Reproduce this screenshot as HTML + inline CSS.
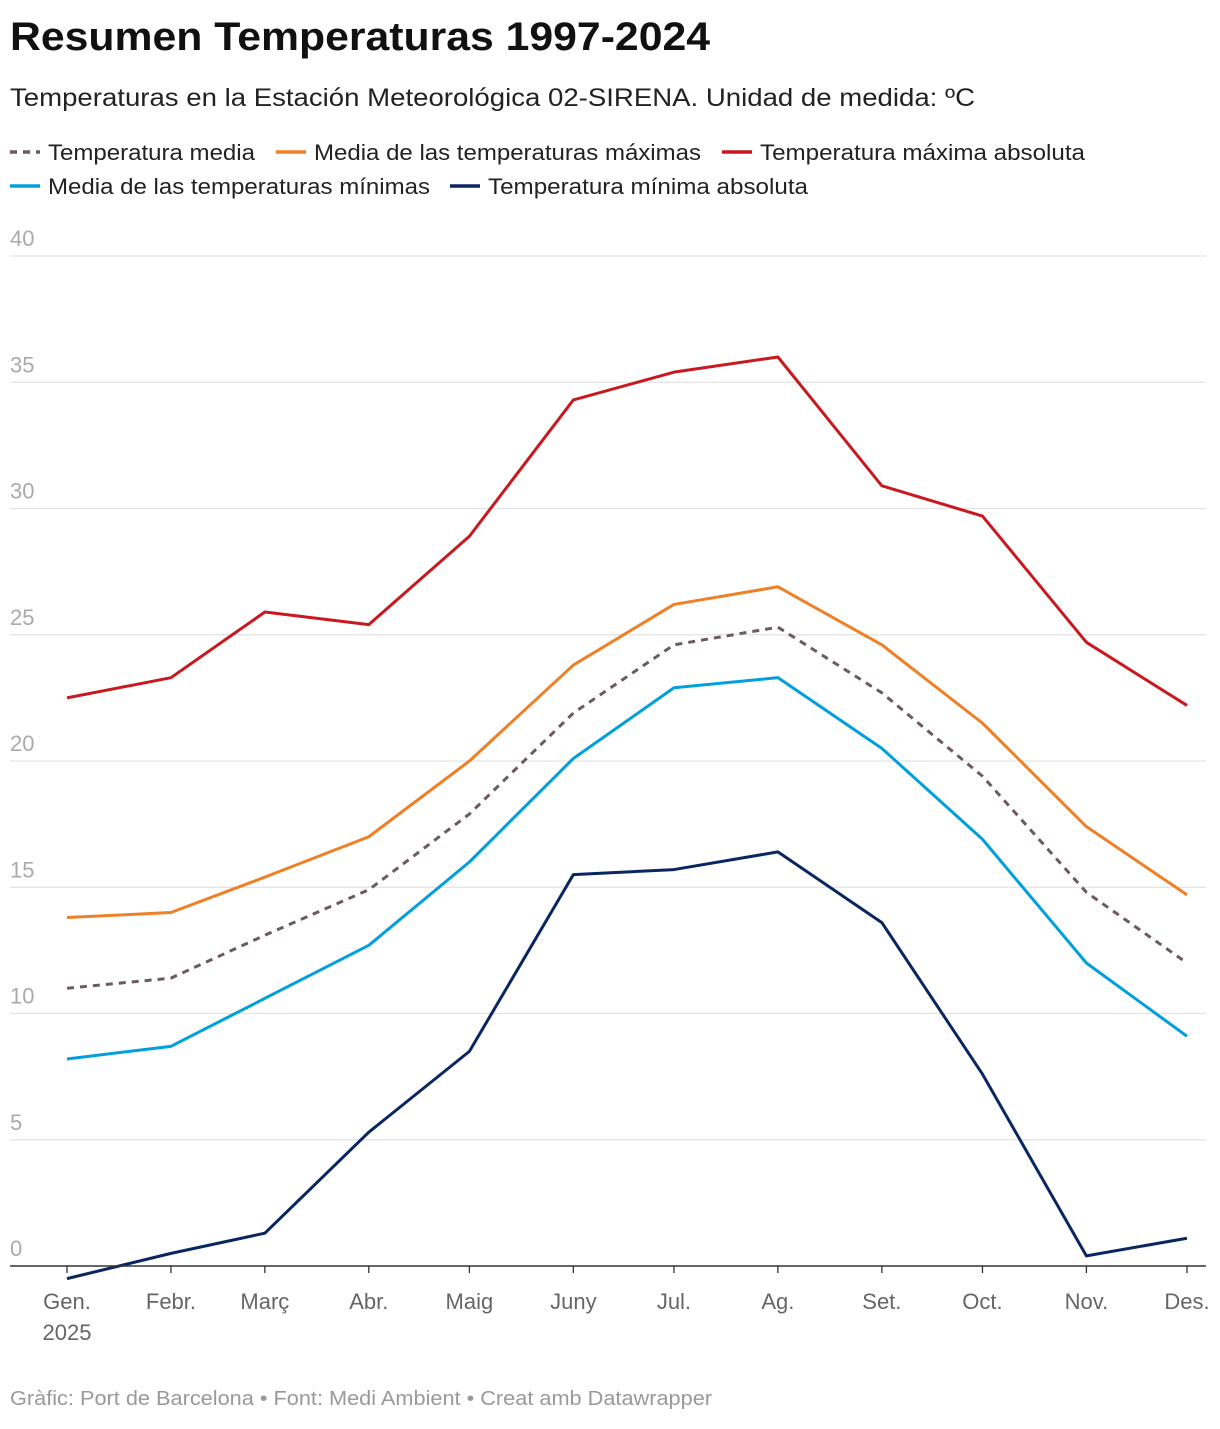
<!DOCTYPE html>
<html><head><meta charset="utf-8"><style>
body{margin:0;background:#fff;font-family:"Liberation Sans",sans-serif;}
</style></head><body>
<svg width="1220" height="1424" xmlns="http://www.w3.org/2000/svg" font-family="Liberation Sans, sans-serif">
<text x="10" y="50" font-size="40" font-weight="bold" fill="#111" textLength="700" lengthAdjust="spacingAndGlyphs">Resumen Temperaturas 1997-2024</text>
<text x="10" y="106" font-size="25" fill="#222" textLength="965" lengthAdjust="spacingAndGlyphs">Temperaturas en la Estación Meteorológica 02-SIRENA. Unidad de medida: ºC</text>
<g id="legend" font-size="21" fill="#222"></g>
<g id="grid"></g>
<g id="series"></g>
<g id="xaxis"></g>
<text x="10" y="1405" font-size="20" fill="#999" textLength="702" lengthAdjust="spacingAndGlyphs">Gràfic: Port de Barcelona • Font: Medi Ambient • Creat amb Datawrapper</text>
</svg>
<script>
const months=["Gen.","Febr.","Març","Abr.","Maig","Juny","Jul.","Ag.","Set.","Oct.","Nov.","Des."];
const monthDays=[0,31,59,90,120,151,181,212,243,273,304,334];
const yTicks=[0,5,10,15,20,25,30,35,40];
const tempMedia=[11.0,11.4,13.1,14.9,17.9,21.9,24.6,25.3,22.7,19.4,14.8,12.0];
const mediaMax=[13.8,14.0,15.4,17.0,20.0,23.8,26.2,26.9,24.6,21.5,17.4,14.7];
const maxAbs=[22.5,23.3,25.9,25.4,28.9,34.3,35.4,36.0,30.9,29.7,24.7,22.2];
const mediaMin=[8.2,8.7,10.6,12.7,16.0,20.1,22.9,23.3,20.5,16.9,12.0,9.1];
const minAbs=[-0.5,0.5,1.3,5.3,8.5,15.5,15.7,16.4,13.6,7.6,0.4,1.1];
const NS="http://www.w3.org/2000/svg";
const X=d=>67+d*(1120/334);
const Y=v=>1266-v*25.25;
function mk(tag,attrs,parent){const e=document.createElementNS(NS,tag);for(const k in attrs)e.setAttribute(k,attrs[k]);parent.appendChild(e);return e;}
const grid=document.getElementById('grid');
yTicks.forEach(t=>{
 if(t>0){const l=mk('line',{x1:10,x2:1206,y1:Y(t),y2:Y(t),stroke:'#e3e3e3','stroke-width':1.3},grid);
 
 }
 const tx=mk('text',{x:10,y:Y(t)-10,'font-size':22,fill:'#aaa'},grid);tx.textContent=t;
 
 
});
const xa=document.getElementById('xaxis');
const ax=mk('line',{x1:10,x2:1206,y1:1266,y2:1266,stroke:'#333','stroke-width':1.5},xa);


months.forEach((m,i)=>{
 const x=X(monthDays[i]);
 mk('line',{x1:x,x2:x,y1:1266,y2:1273,stroke:'#333','stroke-width':1.3},xa);
 const t=mk('text',{x:x,y:1309,'font-size':22,fill:'#666','text-anchor':'middle'},xa);t.textContent=m;
 
 
});
const yr=mk('text',{x:X(0),y:1340,'font-size':22,fill:'#666','text-anchor':'middle'},xa);yr.textContent='2025';


const series=[
 ['media-max',mediaMax,'#f08026',null],
 ['max-abs',maxAbs,'#c9191e',null],
 ['media-min',mediaMin,'#00a0dc',null],
 ['min-abs',minAbs,'#0a2660',null],
 ['temp-media',tempMedia,'#6b5a5e','7 6']
];
const sg=document.getElementById('series');
series.forEach(s=>{
 const pts=s[1].map((v,i)=>X(monthDays[i])+','+Y(v)).join(' ');
 const a={points:pts,fill:'none',stroke:s[2],'stroke-width':3,'stroke-linejoin':'round'};
 if(s[3])a['stroke-dasharray']=s[3];
 const p=mk('polyline',a,sg);
 
 
});
const lg=document.getElementById('legend');
const items=[['Temperatura media','#6b5a5e',true,10,152,207],['Media de las temperaturas máximas','#f08026',false,276,152,387],['Temperatura máxima absoluta','#c9191e',false,722,152,325],['Media de las temperaturas mínimas','#00a0dc',false,10,186,382],['Temperatura mínima absoluta','#0a2660',false,450,186,320]];
items.forEach((it,i)=>{
 const a={x1:it[3],x2:it[3]+30,y1:it[4],y2:it[4],stroke:it[1],'stroke-width':3.5};
 if(it[2])a['stroke-dasharray']='7 6';
 mk('line',a,lg);
 const t=mk('text',{x:it[3]+38,y:it[4]+8,'font-size':22,fill:'#222',textLength:it[5],lengthAdjust:'spacingAndGlyphs'},lg);t.textContent=it[0];
 
 
});
</script>
</body></html>
